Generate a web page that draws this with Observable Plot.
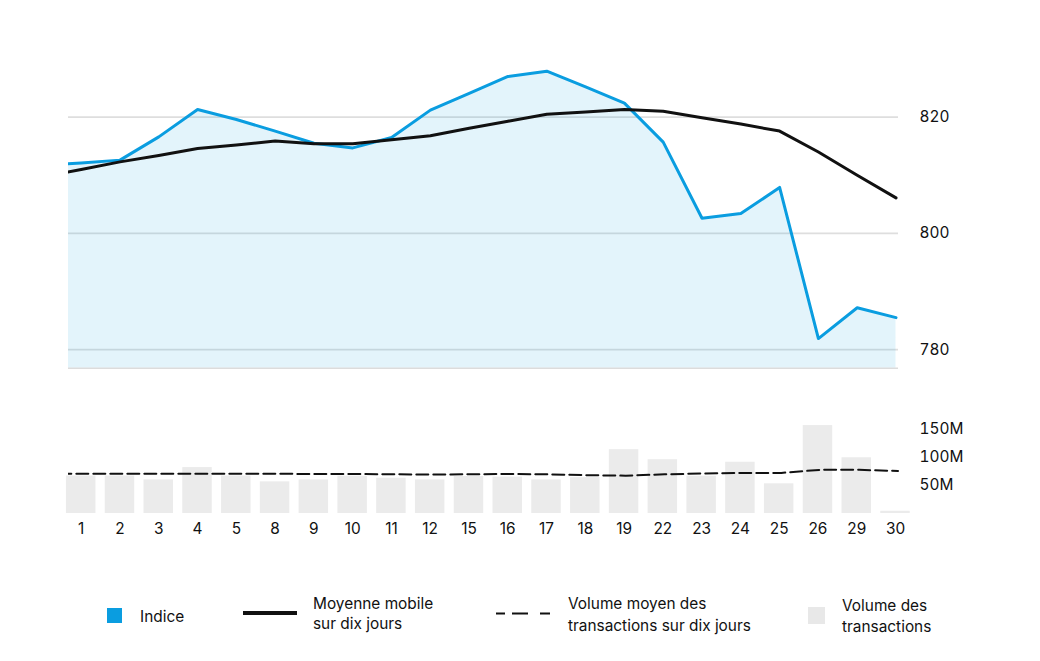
<!DOCTYPE html>
<html>
<head>
<meta charset="utf-8">
<script src="https://cdn.jsdelivr.net/npm/d3@7"></script>
<script src="https://cdn.jsdelivr.net/npm/@observablehq/plot@0.6"></script>
<style>
  html, body { margin: 0; padding: 0; background: #fff; }
  #wrap { position: relative; width: 1040px; height: 661px; font-family: Inter, "Noto Sans", sans-serif; color: #111; }
  .abs { position: absolute; }
  .lg { position: absolute; font-size: 15.4px; line-height: 21px; color: #111; white-space: nowrap; }
</style>
</head>
<body>
<div id="wrap">
  <div id="topChart" class="abs" style="left:0;top:0"></div>
  <div id="bars" class="abs" style="left:0;top:380px"></div>
  <div id="dash" class="abs" style="left:0;top:380px"></div>
  <div id="legend"></div>
</div>
<script>
// ---------- data ----------
const days = ["1","2","3","4","5","8","9","10","11","12","15","16","17","18","19","22","23","24","25","26","29","30"];
// index level
const indice = [812.1, 812.6, 816.6, 821.3, 819.6, 817.6, 815.5, 814.7, 816.5, 821.2, 824.1, 827.0, 827.9, 825.2, 822.4, 815.7, 802.6, 803.4, 807.9, 781.9, 787.2, 785.5];
// 10-day moving average
const moyenne = [811.0, 812.3, 813.4, 814.6, 815.2, 815.9, 815.4, 815.4, 816.1, 816.8, 818.1, 819.3, 820.5, 820.9, 821.3, 821.0, 819.9, 818.8, 817.6, 814.0, 810.0, 806.1];
// trading volume (millions)
const volume = [67, 67, 60, 82, 67, 56.5, 60, 66.5, 63, 60, 66, 65, 60, 64, 114, 96, 66.5, 91.5, 53, 157, 99.5, 4];
// 10-day average volume (millions)
const volMoyen = [71, 71, 71, 71, 71, 71, 70.5, 70.5, 70, 69.5, 70, 70.5, 70, 68.5, 67.5, 70, 71.5, 72.5, 72.5, 78, 78, 76];
// previous trading day (partly visible at the left edge, clipped)
const prev = {indice: 811.7, moyenne: 809.7, volMoyen: 71};
const yTicks = [780, 800, 820];
const volTicks = [50, 100, 150];

const BLUE = "#0a9de0";
const INK = "#111";
const FONT = "Inter, 'Noto Sans', sans-serif";

// line table indexed by trading-day position; -1 = previous day
const lineData = [{i: -1, d: "prev", indice: prev.indice, moyenne: prev.moyenne, volMoyen: prev.volMoyen}]
  .concat(days.map((d, i) => ({i, d, indice: indice[i], moyenne: moyenne[i], volMoyen: volMoyen[i]})));
const barData = days.map((d, i) => ({d, v: volume[i]}));

const xLine = {type: "linear", domain: [-0.327, 21.064], axis: null};

// ---------- top chart ----------
const topPlot = Plot.plot({
  width: 1040, height: 380,
  marginLeft: 68, marginRight: 142, marginTop: 58.5, marginBottom: 12.3,
  style: {fontFamily: FONT, fontSize: "15.4px", color: INK, background: "transparent"},
  x: xLine,
  y: {domain: [776.8, 830], ticks: yTicks, axis: null},
  marks: [
    Plot.ruleY(yTicks, {stroke: "#dedede", strokeWidth: 1.6}),
    Plot.areaY(lineData, {x: "i", y: "indice", fill: BLUE, fillOpacity: 0.115, clip: true}),
    Plot.ruleY([776.8], {stroke: "#dcdcdc", strokeWidth: 1.5}),
    Plot.lineY(lineData, {x: "i", y: "indice", stroke: BLUE, strokeWidth: 3, clip: true}),
    Plot.lineY(lineData, {x: "i", y: "moyenne", stroke: "#111", strokeWidth: 3, clip: true}),
    Plot.axisY(yTicks, {anchor: "right", tickSize: 0, tickPadding: 21, textAnchor: "start", fontSize: 15.4, fill: INK, label: null})
  ]
});
document.getElementById("topChart").appendChild(topPlot);

// ---------- volume bars ----------
const barsPlot = Plot.plot({
  width: 1040, height: 160,
  marginLeft: 61.3, marginRight: 125.6, marginTop: 37.8, marginBottom: 27,
  style: {fontFamily: FONT, fontSize: "15.4px", color: INK, background: "transparent"},
  x: {type: "band", domain: days, paddingInner: 0.24, paddingOuter: 0.12, round: false, axis: null},
  y: {domain: [0, 170], axis: null},
  marks: [
    Plot.barY(barData, {x: "d", y: "v", fill: "#ebebeb"}),
    Plot.axisX({anchor: "bottom", tickSize: 0, tickPadding: 10, fontSize: 15.4, fill: INK, label: null}),
    Plot.axisY(volTicks, {anchor: "right", tickSize: 0, tickPadding: 4.6, textAnchor: "start", fontSize: 15.4, fill: INK, tickFormat: d => d + "M", label: null})
  ]
});
document.getElementById("bars").appendChild(barsPlot);

// ---------- 10-day average volume (dashed) ----------
const dashPlot = Plot.plot({
  width: 1040, height: 160,
  marginLeft: 68, marginRight: 140, marginTop: 37.8, marginBottom: 27,
  style: {background: "transparent"},
  x: xLine,
  y: {domain: [0, 170], axis: null},
  marks: [
    Plot.lineY(lineData, {x: "i", y: "volMoyen", stroke: "#111", strokeWidth: 2, strokeDasharray: "12,5", clip: true})
  ]
});
document.getElementById("dash").appendChild(dashPlot);

// ---------- legend ----------
const legendEl = document.getElementById("legend");
legendEl.innerHTML = `
  <div class="abs" style="left:107px;top:608px;width:15px;height:15px;background:${BLUE}"></div>
  <div class="lg" style="left:140px;top:606px;">Indice</div>
  <div class="abs" style="left:243px;top:611px;width:54px;height:4px;background:#111"></div>
  <div class="lg" style="left:313px;top:593.5px;line-height:20px">Moyenne mobile<br>sur dix jours</div>
  <svg class="abs" style="left:496px;top:611px" width="57" height="5"><line x1="0" y1="2.5" x2="56" y2="2.5" stroke="#111" stroke-width="2.2" stroke-dasharray="9,7,16,12,10,100"/></svg>
  <div class="lg" style="left:568px;top:593px;line-height:21.5px">Volume moyen des<br>transactions sur dix jours</div>
  <div class="abs" style="left:808px;top:607px;width:17px;height:17px;background:#e8e8e8"></div>
  <div class="lg" style="left:842px;top:594.5px;line-height:21px">Volume des<br>transactions</div>
`;
</script>
</body>
</html>
